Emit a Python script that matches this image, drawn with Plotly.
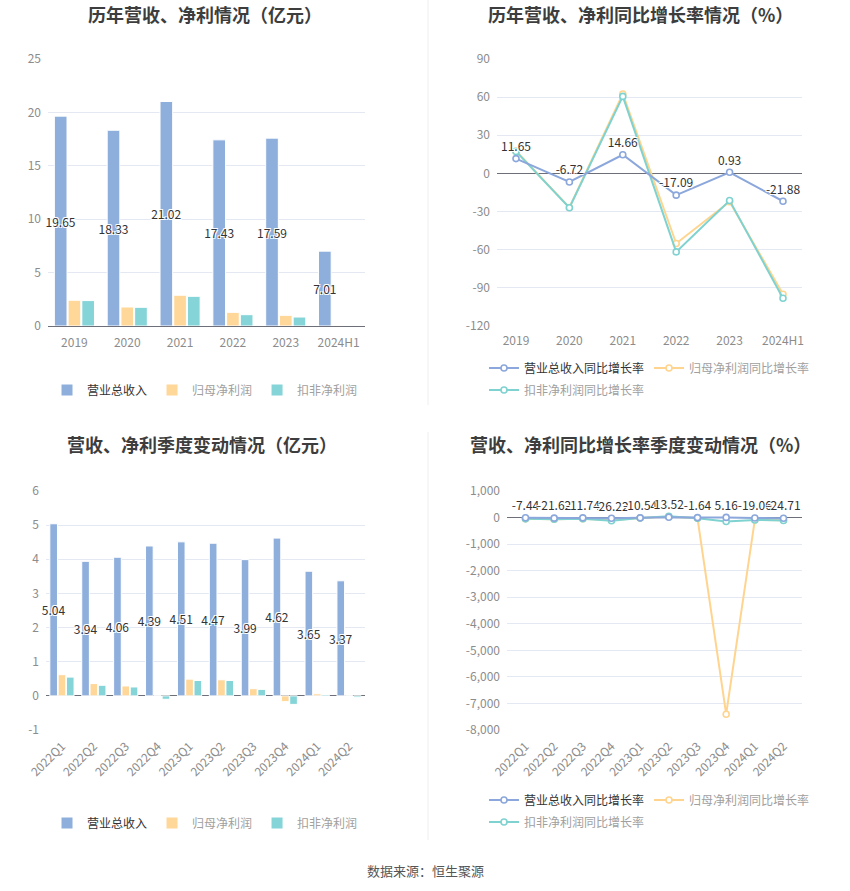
import plotly.graph_objects as go

# ---------------- data ----------------
years = ["2019", "2020", "2021", "2022", "2023", "2024H1"]
rev_y = [19.65, 18.33, 21.02, 17.43, 17.59, 7.01]
np_y = [2.41, 1.78, 2.88, 1.28, 1.00, 0.06]
dnp_y = [2.38, 1.75, 2.78, 1.06, 0.84, 0.01]

rev_g_y = [11.65, -6.72, 14.66, -17.09, 0.93, -21.88]
np_g_y = [17.6, -26.8, 62.5, -55.1, -22.3, -95.0]
dnp_g_y = [17.3, -27.0, 60.6, -61.7, -21.3, -98.2]

quarters = ["2022Q1", "2022Q2", "2022Q3", "2022Q4", "2023Q1",
            "2023Q2", "2023Q3", "2023Q4", "2024Q1", "2024Q2"]
rev_q = [5.04, 3.94, 4.06, 4.39, 4.51, 4.47, 3.99, 4.62, 3.65, 3.37]
np_q = [0.62, 0.36, 0.29, 0.0023, 0.49, 0.47, 0.21, -0.17, 0.06, 0.005]
dnp_q = [0.55, 0.31, 0.26, -0.10, 0.45, 0.45, 0.19, -0.25, 0.04, -0.04]

rev_g_q = [-7.44, -21.62, -11.74, -26.22, -10.54, 13.52, -1.64, 5.16, -19.06, -24.71]
np_g_q = [-45, -62, -42, -99, -21, 30, -28, -7405, -88, -99]
dnp_g_q = [-48, -64, -45, -118, -18, 45, -27, -150, -91, -109]

ticks_tl = [0, 5, 10, 15, 20, 25]
ticks_tr = [-120, -90, -60, -30, 0, 30, 60, 90]
ticks_bl = [-1, 0, 1, 2, 3, 4, 5, 6]
ticks_br = [-8000, -7000, -6000, -5000, -4000, -3000, -2000, -1000, 0, 1000]

titles = ["历年营收、净利情况（亿元）", "历年营收、净利同比增长率情况（%）",
          "营收、净利季度变动情况（亿元）", "营收、净利同比增长率季度变动情况（%）"]
bar_names = ["营业总收入", "归母净利润", "扣非净利润"]
line_names = ["营业总收入同比增长率", "归母净利润同比增长率", "扣非净利润同比增长率"]
source = "数据来源：恒生聚源"

# ---------------- styling ----------------
W, H = 850, 891
OFF = 0  # body margin removed via post_script
C_BLUE = "#8EAEDC"
C_YEL = "#FFD799"
C_TEAL = "#84D4D8"
L_BLUE = "#8BA7DB"
L_YEL = "#FFD48E"
L_TEAL = "#7ED3D0"
GRID = "#E3E8F3"
AXIS = "#6E7079"
TICK = "#8C8C8C"
FONT = "Noto Sans CJK SC"
OUTLINE = "-1px -1px 0 #fff, 1px -1px 0 #fff, -1px 1px 0 #fff, 1px 1px 0 #fff"
LBL = 12


def px_x(p):
    return (p - OFF) / W


def px_y(p):
    return 1 - (p - OFF) / H


def fmt_tick(v):
    return f"{v:,}"


def gray(s):
    return f"<span style='color:#A0A0A0'>{s}</span>"


fig = go.Figure()

barline = dict(color="white", width=1)
lblfont = dict(color="#333", size=LBL, family=FONT, shadow=OUTLINE)

# ---- top-left bars ----
fig.add_trace(go.Bar(x=years, y=rev_y, name=bar_names[0], marker=dict(color=C_BLUE, line=barline),
                     text=[f"{v:.2f}" for v in rev_y], textposition="inside", insidetextanchor="middle",
                     textangle=0, constraintext="none", cliponaxis=False,
                     insidetextfont=lblfont, xaxis="x", yaxis="y", legend="legend"))
fig.add_trace(go.Bar(x=years, y=np_y, name=gray(bar_names[1]), marker=dict(color=C_YEL, line=barline),
                     xaxis="x", yaxis="y", legend="legend"))
fig.add_trace(go.Bar(x=years, y=dnp_y, name=gray(bar_names[2]), marker=dict(color=C_TEAL, line=barline),
                     xaxis="x", yaxis="y", legend="legend"))


# ---- top-right lines ----
def mk(color):
    return dict(symbol="circle", size=6, color="white", line=dict(color=color, width=1.6))


fig.add_trace(go.Scatter(x=years, y=np_g_y, name=gray(line_names[1]), mode="lines+markers",
                         line=dict(color=L_YEL, width=2), marker=mk(L_YEL), xaxis="x2", yaxis="y2", legend="legend2"))
fig.add_trace(go.Scatter(x=years, y=dnp_g_y, name=gray(line_names[2]), mode="lines+markers",
                         line=dict(color=L_TEAL, width=2), marker=mk(L_TEAL), xaxis="x2", yaxis="y2", legend="legend3"))
fig.add_trace(go.Scatter(x=years, y=rev_g_y, name=line_names[0], mode="lines+markers+text",
                         text=[f"{v:.2f}" for v in rev_g_y], textposition="top center",
                         textfont=lblfont, cliponaxis=False,
                         line=dict(color=L_BLUE, width=2), marker=mk(L_BLUE), xaxis="x2", yaxis="y2",
                         legend="legend2", legendrank=1))

# ---- bottom-left bars ----
fig.add_trace(go.Bar(x=quarters, y=rev_q, name=bar_names[0], marker=dict(color=C_BLUE, line=barline),
                     text=[f"{v:.2f}" for v in rev_q], textposition="inside", insidetextanchor="middle",
                     textangle=0, constraintext="none", cliponaxis=False,
                     insidetextfont=lblfont, xaxis="x3", yaxis="y3", legend="legend4"))
fig.add_trace(go.Bar(x=quarters, y=np_q, name=gray(bar_names[1]), marker=dict(color=C_YEL, line=barline),
                     xaxis="x3", yaxis="y3", legend="legend4"))
fig.add_trace(go.Bar(x=quarters, y=dnp_q, name=gray(bar_names[2]), marker=dict(color=C_TEAL, line=barline),
                     xaxis="x3", yaxis="y3", legend="legend4"))

# ---- bottom-right lines ----
fig.add_trace(go.Scatter(x=quarters, y=np_g_q, name=gray(line_names[1]), mode="lines+markers",
                         line=dict(color=L_YEL, width=2), marker=mk(L_YEL), xaxis="x4", yaxis="y4", legend="legend5"))
fig.add_trace(go.Scatter(x=quarters, y=dnp_g_q, name=gray(line_names[2]), mode="lines+markers",
                         line=dict(color=L_TEAL, width=2), marker=mk(L_TEAL), xaxis="x4", yaxis="y4", legend="legend6"))
fig.add_trace(go.Scatter(x=quarters, y=rev_g_q, name=line_names[0], mode="lines+markers+text",
                         text=[f"{v:.2f}" for v in rev_g_q], textposition="top center",
                         textfont=lblfont, cliponaxis=False,
                         line=dict(color=L_BLUE, width=2), marker=mk(L_BLUE), xaxis="x4", yaxis="y4",
                         legend="legend5", legendrank=1))

tickfont = dict(color=TICK, size=12, family=FONT)


def xax(dom, anchor, line, angle=0):
    d = dict(domain=[px_x(dom[0]), px_x(dom[1])], anchor=anchor, type="category",
             showgrid=False, zeroline=False, tickfont=tickfont, tickangle=angle,
             automargin=False, fixedrange=True, ticks="")
    if line:
        d.update(showline=True, linecolor=AXIS, linewidth=1, ticklabelstandoff=6)
    else:
        d.update(showline=False, ticklabelstandoff=6)
    return d


def yax(dom, anchor, rng, tv):
    return dict(domain=[px_y(dom[1]), px_y(dom[0])], anchor=anchor, range=rng,
                tickvals=tv, ticktext=[fmt_tick(v) for v in tv],
                showgrid=True, gridcolor=GRID, gridwidth=1, showline=False,
                zeroline=True, zerolinecolor=AXIS, zerolinewidth=1,
                tickfont=tickfont, ticks="", ticklabelstandoff=6, automargin=False, fixedrange=True)


legfont = dict(size=12, color="#333", family=FONT)


def leg(x, y, xanchor):
    return dict(orientation="h", x=px_x(x), y=px_y(y), xanchor=xanchor, yanchor="middle",
                font=legfont, bgcolor="rgba(0,0,0,0)", itemwidth=30, tracegroupgap=0,
                traceorder="normal")


fig.update_layout(
    width=W, height=H, margin=dict(l=0, r=0, t=0, b=0),
    template="none", paper_bgcolor="white", plot_bgcolor="white",
    font=dict(family=FONT, color="#333"),
    barmode="group", bargap=0.22, bargroupgap=0.08,
    xaxis=xax((48, 365), "y", True),
    yaxis=yax((59, 326), "x", [0, 25], ticks_tl),
    xaxis2=xax((497, 802), "y2", False),
    yaxis2=yax((59, 326), "x2", [-120, 90], ticks_tr),
    xaxis3=xax((46, 365), "y3", False, -45),
    yaxis3=yax((491, 730), "x3", [-1, 6], ticks_bl),
    xaxis4=xax((507, 802), "y4", False, -45),
    yaxis4=yax((491, 730), "x4", [-8000, 1000], ticks_br),
    legend=leg(205, 390, "center"),
    legend2=leg(484, 368, "left"),
    legend3=leg(484, 390, "left"),
    legend4=leg(205, 823, "center"),
    legend5=leg(484, 800, "left"),
    legend6=leg(484, 822, "left"),
    showlegend=True,
)

title_pos = [(205, 14), (640, 14), (202, 444), (640, 444)]
for t, (cx, cy) in zip(titles, title_pos):
    fig.add_annotation(text=f"<b>{t}</b>", x=px_x(cx), y=px_y(cy), xref="paper", yref="paper",
                       showarrow=False, xanchor="center", yanchor="middle",
                       font=dict(size=18, color="#3D3D3D", family=FONT))

fig.add_annotation(text=source, x=px_x(425), y=px_y(870), xref="paper", yref="paper",
                   showarrow=False, xanchor="center", yanchor="middle",
                   font=dict(size=13, color="#555", family=FONT))

for y0, y1 in [(0, 405), (432, 840)]:
    fig.add_shape(type="line", xref="paper", yref="paper", x0=px_x(428), x1=px_x(428),
                  y0=px_y(y1), y1=min(1, px_y(y0)), line=dict(color="#EEEEEE", width=1))

fig.write_html("out.html",
               config={"displayModeBar": False, "staticPlot": False},
               post_script="document.body.style.margin='0';document.body.style.overflow='hidden';")
